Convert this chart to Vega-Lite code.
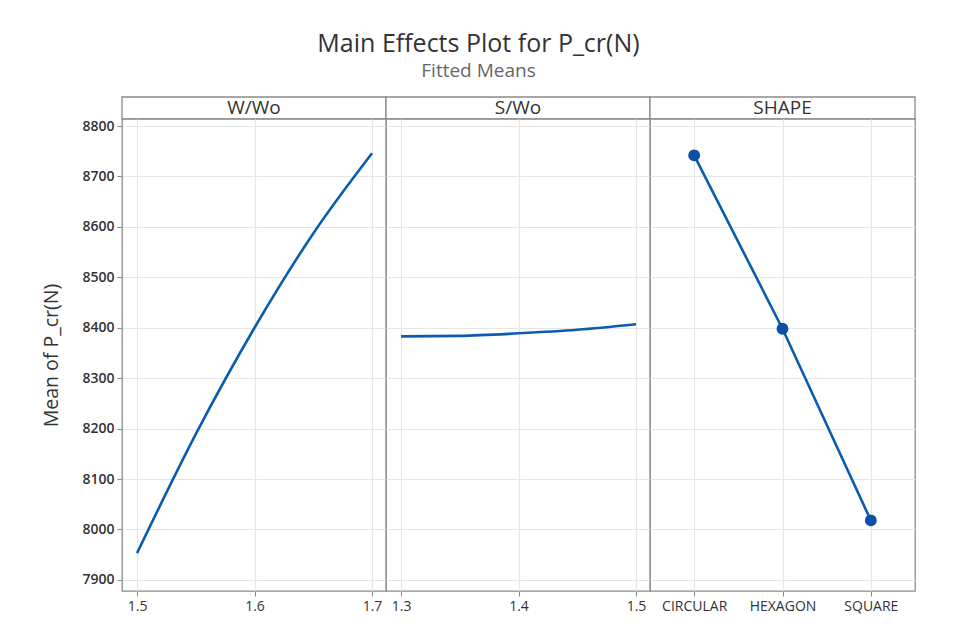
{
  "$schema": "https://vega.github.io/schema/vega-lite/v6.json",
  "background": "white",
  "padding": {"left": 41, "top": 32, "right": 30, "bottom": 5},
  "autosize": {"type": "pad"},
  "title": {
    "text": "Main Effects Plot for P_cr(N)",
    "subtitle": "Fitted Means",
    "font": "Open Sans",
    "fontSize": 25,
    "fontWeight": "normal",
    "color": "#333333",
    "subtitleFont": "Open Sans",
    "subtitleFontSize": 19,
    "subtitleColor": "#666666",
    "subtitlePadding": 5,
    "anchor": "middle",
    "offset": 15
  },
  "datasets": {
    "w": [
      {"level": 1.5, "mean": 7953},
      {"level": 1.55, "mean": 8189},
      {"level": 1.6, "mean": 8400},
      {"level": 1.65, "mean": 8587},
      {"level": 1.7, "mean": 8746}
    ],
    "s": [
      {"level": 1.3, "mean": 8383},
      {"level": 1.35, "mean": 8384},
      {"level": 1.4, "mean": 8389},
      {"level": 1.45, "mean": 8396},
      {"level": 1.5, "mean": 8407}
    ],
    "shape": [
      {"level": "CIRCULAR", "mean": 8742},
      {"level": "HEXAGON", "mean": 8398},
      {"level": "SQUARE", "mean": 8018}
    ],
    "headers": [
      {"label": "W/Wo"},
      {"label": "S/Wo"},
      {"label": "SHAPE"}
    ]
  },
  "columns": 3,
  "spacing": 0,
  "bounds": "flush",
  "resolve": {"scale": {"x": "independent", "y": "independent"}},
  "concat": [
    {
      "width": 264, "height": 22,
      "data": {"name": "headers"},
      "transform": [{"filter": "datum.label === 'W/Wo'"}],
      "layer": [
        {"mark": {"type": "rect", "fill": "white", "stroke": "#8a8a8a", "strokeWidth": 1.3}, "encoding": {}},
        {"mark": {"type": "text", "font": "Open Sans", "fontSize": 19, "color": "#333333"},
         "encoding": {"text": {"field": "label", "type": "nominal"}}}
      ]
    },
    {
      "width": 264, "height": 22,
      "data": {"name": "headers"},
      "transform": [{"filter": "datum.label === 'S/Wo'"}],
      "layer": [
        {"mark": {"type": "rect", "fill": "white", "stroke": "#8a8a8a", "strokeWidth": 1.3}, "encoding": {}},
        {"mark": {"type": "text", "font": "Open Sans", "fontSize": 19, "color": "#333333"},
         "encoding": {"text": {"field": "label", "type": "nominal"}}}
      ]
    },
    {
      "width": 265, "height": 22,
      "data": {"name": "headers"},
      "transform": [{"filter": "datum.label === 'SHAPE'"}],
      "layer": [
        {"mark": {"type": "rect", "fill": "white", "stroke": "#8a8a8a", "strokeWidth": 1.3}, "encoding": {}},
        {"mark": {"type": "text", "font": "Open Sans", "fontSize": 19, "color": "#333333"},
         "encoding": {"text": {"field": "label", "type": "nominal"}}}
      ]
    },
    {
      "width": 264, "height": 472,
      "data": {"name": "w"},
      "mark": {"type": "line", "interpolate": "monotone", "color": "#0b5cad", "strokeWidth": 2.6},
      "encoding": {
        "x": {"field": "level", "type": "quantitative",
              "scale": {"domain": [1.4872, 1.7119], "nice": false, "zero": false},
              "axis": {"values": [1.5, 1.6, 1.7], "format": ".1f", "title": null,
                       "labelFontWeight": "normal", "labelFontSize": 14}},
        "y": {"field": "mean", "type": "quantitative",
              "scale": {"domain": [7878, 8814], "nice": false, "zero": false},
              "axis": {"values": [7900, 8000, 8100, 8200, 8300, 8400, 8500, 8600, 8700, 8800],
                       "title": "Mean of P_cr(N)", "format": "d"}}
      }
    },
    {
      "width": 264, "height": 472,
      "data": {"name": "s"},
      "mark": {"type": "line", "interpolate": "monotone", "color": "#0b5cad", "strokeWidth": 2.6},
      "encoding": {
        "x": {"field": "level", "type": "quantitative",
              "scale": {"domain": [1.2872, 1.5119], "nice": false, "zero": false},
              "axis": {"values": [1.3, 1.4, 1.5], "format": ".1f", "title": null,
                       "labelFontWeight": "normal", "labelFontSize": 14}},
        "y": {"field": "mean", "type": "quantitative",
              "scale": {"domain": [7878, 8814], "nice": false, "zero": false},
              "axis": {"values": [7900, 8000, 8100, 8200, 8300, 8400, 8500, 8600, 8700, 8800],
                       "title": null, "labels": false, "ticks": false}}
      }
    },
    {
      "width": 265, "height": 472,
      "data": {"name": "shape"},
      "encoding": {
        "x": {"field": "level", "type": "nominal",
              "scale": {"type": "point", "padding": 0.5, "domain": ["CIRCULAR", "HEXAGON", "SQUARE"]},
              "axis": {"labelAngle": 0, "title": null, "labelFontWeight": "normal", "labelFontSize": 14}},
        "y": {"field": "mean", "type": "quantitative",
              "scale": {"domain": [7878, 8814], "nice": false, "zero": false},
              "axis": {"values": [7900, 8000, 8100, 8200, 8300, 8400, 8500, 8600, 8700, 8800],
                       "title": null, "labels": false, "ticks": false}}
      },
      "layer": [
        {"mark": {"type": "line", "color": "#0b5cad", "strokeWidth": 2.6}},
        {"mark": {"type": "point", "filled": true, "color": "#0b4fa8", "size": 140, "opacity": 1}}
      ]
    }
  ],
  "config": {
    "font": "Open Sans",
    "view": {"stroke": "#8a8a8a", "strokeWidth": 1.3, "fill": "white"},
    "axis": {
      "domain": false,
      "grid": true,
      "gridColor": "#e6e6e6",
      "gridWidth": 1.2,
      "tickColor": "#8a8a8a",
      "tickSize": 5,
      "labelFont": "Open Sans",
      "labelFontSize": 14,
      "labelFontWeight": 600,
      "labelColor": "#333333",
      "labelPadding": 3,
      "titleFont": "Open Sans",
      "titleFontSize": 19.5,
      "titleFontWeight": "normal",
      "titleColor": "#333333",
      "titlePadding": 20
    }
  }
}
